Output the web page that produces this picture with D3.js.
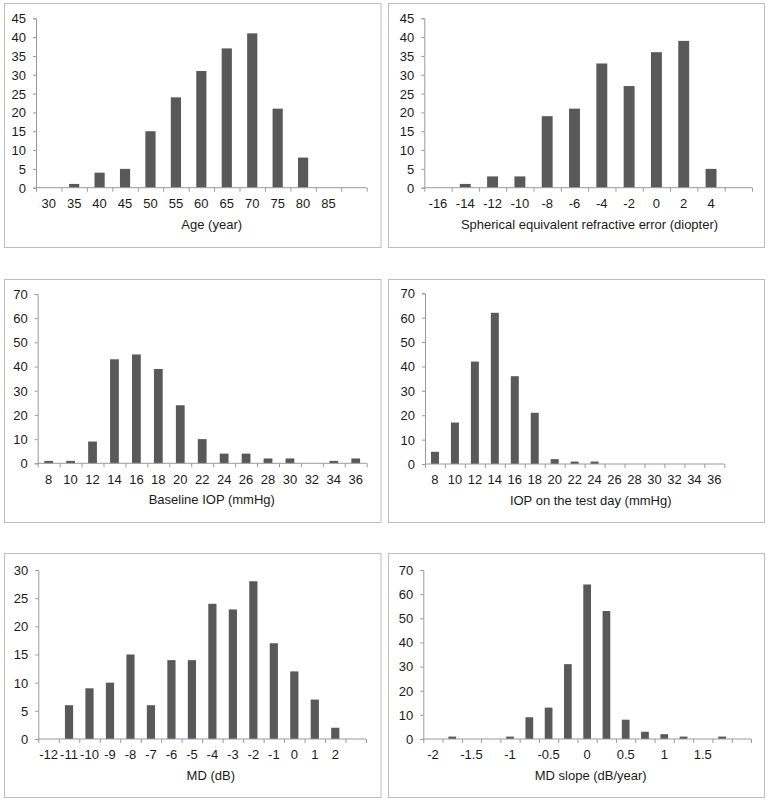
<!DOCTYPE html>
<html>
<head>
<meta charset="utf-8">
<script src="https://cdn.jsdelivr.net/npm/d3@7"></script>
<style>
  html, body { margin: 0; padding: 0; background: #fff; }
  svg text { font-family: "Liberation Sans", Arial, sans-serif; font-size: 13px; fill: #1a1a1a; }
</style>
</head>
<body>
<svg id="chart" width="770" height="804"></svg>
<script>
// ---- Data ----
const ageLabels = ["30","35","40","45","50","55","60","65","70","75","80","85",""];
const ageCounts = [0,1,4,5,15,24,31,37,41,21,8,0,0];

const serLabels = ["-16","-14","-12","-10","-8","-6","-4","-2","0","2","4",""];
const serCounts = [0,1,3,3,19,21,33,27,36,39,5,0];

const baseIopLabels = ["8","10","12","14","16","18","20","22","24","26","28","30","32","34","36"];
const baseIopCounts = [1,1,9,43,45,39,24,10,4,4,2,2,0,1,2];

const testIopLabels = ["8","10","12","14","16","18","20","22","24","26","28","30","32","34","36"];
const testIopCounts = [5,17,42,62,36,21,2,1,1,0,0,0,0,0,0];

const mdLabels = ["-12","-11","-10","-9","-8","-7","-6","-5","-4","-3","-2","-1","0","1","2",""];
const mdCounts = [0,6,9,10,15,6,14,14,24,23,28,17,12,7,2,0];

const slopeLabels = ["-2","","-1.5","","-1","","-0.5","","0","","0.5","","1","","1.5","",""];
const slopeCounts = [0,1,0,0,1,9,13,31,64,53,8,3,2,1,0,1,0];

const titles = ["Age (year)", "Spherical equivalent refractive error (diopter)",
  "Baseline IOP (mmHg)", "IOP on the test day (mmHg)", "MD (dB)", "MD slope (dB/year)"];
const yMax = [45, 45, 70, 70, 30, 70];
const yStep = [5, 5, 10, 10, 5, 10];

// ---- Layout (positions only) ----
const layout = [
  {box:[4,3,380.5,247],   x0:36,    x1:366.7, yT:18.3, yB:187.7, tx:211.7},
  {box:[388,3,764,247],   x0:424.3, x1:752,   yT:18.3, yB:187.7, tx:589.5},
  {box:[4,279,380.5,522], x0:37.7,  x1:366.7, yT:294,  yB:463.3, tx:211.8},
  {box:[388,279,764,522], x0:425,   x1:724.3, yT:293.3,yB:464,   tx:590.7},
  {box:[4,553,380.5,797], x0:38.3,  x1:366,   yT:570,  yB:739,   tx:210.8},
  {box:[388,553,764,797], x0:423.3, x1:751,   yT:570,  yB:739,   tx:590.7}
];

const panels = [
  [ageLabels, ageCounts], [serLabels, serCounts], [baseIopLabels, baseIopCounts],
  [testIopLabels, testIopCounts], [mdLabels, mdCounts], [slopeLabels, slopeCounts]
];

const svg = d3.select("#chart");
const axisColor = "#9a9a9a";
const barColor = "#595959";

panels.forEach(([labels, counts], i) => {
  const L = layout[i];
  const g = svg.append("g");
  // panel border
  g.append("rect")
    .attr("x", L.box[0] + 0.5).attr("y", L.box[1] + 0.5)
    .attr("width", L.box[2] - L.box[0]).attr("height", L.box[3] - L.box[1])
    .attr("fill", "#fff").attr("stroke", "#bdbdbd").attr("stroke-width", 1);

  const n = labels.length;
  const idx = d3.range(n);
  const x = d3.scaleBand().domain(idx).range([L.x0, L.x1]).paddingInner(0.6).paddingOuter(0.3);
  const xb = d3.scaleLinear().domain([0, n]).range([L.x0, L.x1]);
  const y = d3.scaleLinear().domain([0, yMax[i]]).range([L.yB, L.yT]);

  // bars
  g.selectAll("rect.bar").data(counts).join("rect")
    .attr("class", "bar")
    .attr("x", (d, j) => x(j))
    .attr("width", x.bandwidth())
    .attr("y", d => y(d))
    .attr("height", d => y(0) - y(d))
    .attr("fill", barColor);

  // y axis
  const ya = g.append("g").attr("transform", `translate(${L.x0},0)`)
    .call(d3.axisLeft(y).tickValues(d3.range(0, yMax[i] + 0.001, yStep[i]))
      .tickSize(3).tickPadding(7).tickFormat(d3.format("d")));
  ya.selectAll("path, line").attr("stroke", axisColor);
  ya.selectAll("text").attr("dy", "0.34em");

  // x axis boundary ticks
  const xa = g.append("g").attr("transform", `translate(0,${L.yB})`)
    .call(d3.axisBottom(xb).tickValues(d3.range(n + 1)).tickSize(4).tickFormat(""));
  xa.selectAll("path, line").attr("stroke", axisColor);
  xa.select("path").attr("d", `M${L.x0},0H${L.x1}`);

  // x category labels
  const xl = g.append("g").attr("transform", `translate(0,${L.yB})`)
    .call(d3.axisBottom(x).tickSize(0).tickPadding(11).tickFormat(j => labels[j]));
  xl.select("path").remove();

  // x title
  g.append("text")
    .attr("x", L.tx).attr("y", L.yB + 41)
    .attr("text-anchor", "middle")
    .text(titles[i]);
});
</script>
</body>
</html>
